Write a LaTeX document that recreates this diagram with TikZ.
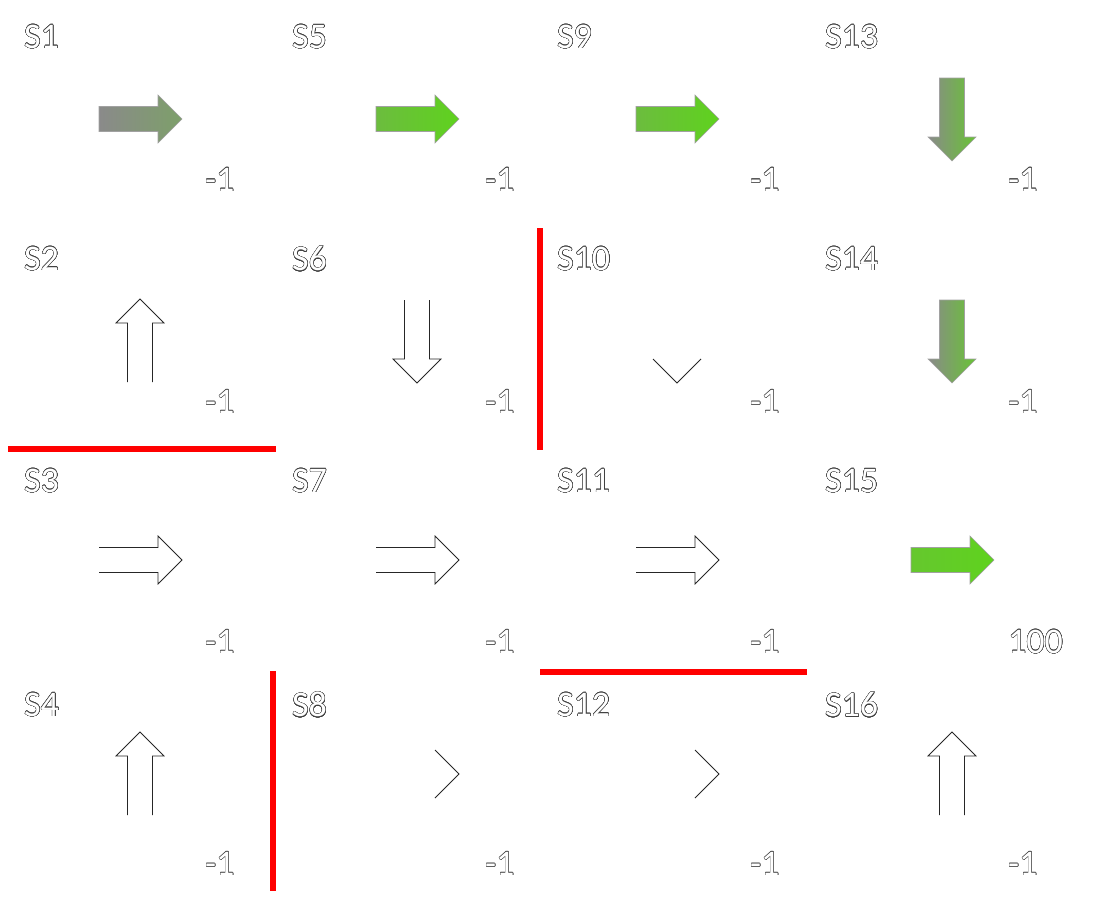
\documentclass[tikz,border=0pt]{standalone}
\usepackage{fontspec}
\setmainfont{Carlito}
\usepackage[copies]{contour}
\usepackage{tikz}
\definecolor{wallred}{RGB}{255,0,0}
\definecolor{arrowgray}{RGB}{138,138,138}
\definecolor{arrowgreen}{RGB}{95,210,30}
\contourlength{0.4pt}
\contournumber{24}
\newcommand{\hollowtext}[1]{\contour{black!75}{\textcolor{white}{#1}}}
\tikzset{
  wall/.style={wallred, line width=6pt},
  fatarrow/.pic={\path[pic actions] (-41,-12.5) -- (18,-12.5) -- (18,-24) -- (42,0) -- (18,24) -- (18,12.5) -- (-41,12.5) -- cycle;},
  openarrow/.pic={\draw[pic actions] (-41,-12.5) -- (18,-12.5) -- (18,-24) -- (42,0) -- (18,24) -- (18,12.5) -- (-41,12.5);},
  halfarrow/.pic={\draw[pic actions] (18,-24) -- (42,0) -- (18,24);},
  filled/.style={draw=arrowgray!80, line width=0.6pt},
  outlined/.style={black!85, line width=0.8pt},
}

\begin{document}
\begin{tikzpicture}[x=1pt, y=-1pt, every node/.style={font=\fontsize{36}{40}\selectfont, inner sep=0pt}]
  \useasboundingbox (0,0) rectangle (1103,910);
  % state names and rewards
  \foreach \c/\sx/\rx in {1/24/205,2/292/485,3/557/750,4/825/1008}
    \foreach \r/\sy/\ry in {1/37/180,2/259/402,3/481/642,4/705/864} {
      \pgfmathtruncatemacro{\s}{4*(\c-1)+\r}
      \node[anchor=west] (s\s) at (\sx,\sy) {\hollowtext{S\s}};
      \node[anchor=west] (r\s) at (\rx,\ry) {\hollowtext{\ifnum\s=15 100\else -1\fi}};
    }
  % greedy moves
  \pic[filled, left color=arrowgray, right color=arrowgray!70!arrowgreen] (a1) at (140,119) {fatarrow};
  \pic[filled, left color=arrowgreen!70!arrowgray, right color=arrowgreen] (a5) at (417,119) {fatarrow};
  \pic[filled, left color=arrowgreen!70!arrowgray, right color=arrowgreen] (a9) at (677,119) {fatarrow};
  \pic[filled, rotate=-90, left color=arrowgray, right color=arrowgreen!80!arrowgray] (a13) at (952,119) {fatarrow};
  \pic[filled, rotate=-90, left color=arrowgray, right color=arrowgreen!80!arrowgray] (a14) at (952,341) {fatarrow};
  \pic[filled, left color=arrowgreen!85!arrowgray, right color=arrowgreen] (a15) at (952,560) {fatarrow};
  % other moves
  \pic[outlined, rotate=90] (a2) at (140,341) {openarrow};
  \pic[outlined, rotate=-90] (a6) at (417,341) {openarrow};
  \pic[outlined, rotate=-90] (a10) at (677,341) {halfarrow};
  \pic[outlined] (a3) at (140,560) {openarrow};
  \pic[outlined] (a7) at (417,560) {openarrow};
  \pic[outlined] (a11) at (677,560) {openarrow};
  \pic[outlined, rotate=90] (a4) at (140,774) {openarrow};
  \pic[outlined] (a8) at (417,774) {halfarrow};
  \pic[outlined] (a12) at (677,774) {halfarrow};
  \pic[outlined, rotate=90] (a16) at (952,774) {openarrow};
  % walls
  \draw[wall] (8,449) -- (276,449);
  \draw[wall] (540,228) -- (540,450);
  \draw[wall] (273,671) -- (273,891);
  \draw[wall] (540,672) -- (807,672);
\end{tikzpicture}
\end{document}
